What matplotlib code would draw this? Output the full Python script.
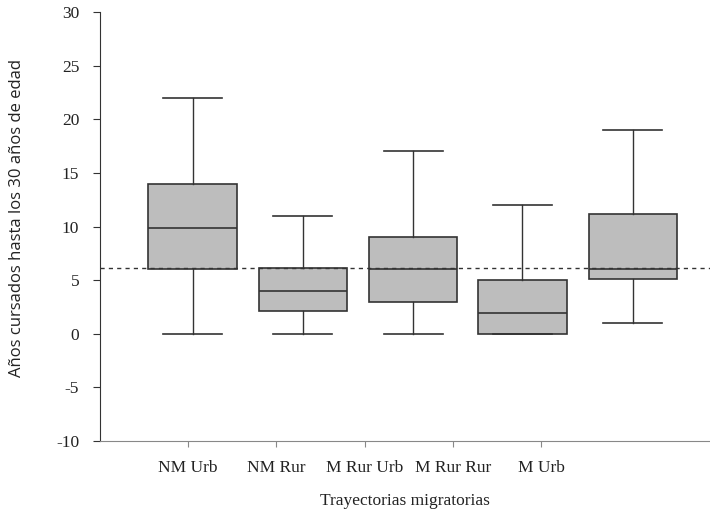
import numpy as np
import matplotlib
matplotlib.use("Agg")
import matplotlib.pyplot as plt

plt.rcParams["axes.unicode_minus"] = False

# Datos (cuartiles y bigotes)
categorias = ["NM Urb", "NM Rur", "M Rur Urb", "M Rur Rur", "M Urb"]
bigote_inf = [0, 0, 0, 0, 1]
q1 = [6, 2.1, 3, 0, 5.1]
mediana = [9.9, 4, 6, 1.9, 6]
q3 = [14, 6.1, 9, 5, 11.2]
bigote_sup = [22, 11, 17, 12, 19]
media_general = 6.1

# posiciones de las etiquetas y de las cajas (desalineadas en el original)
pos_etiquetas = [1, 2, 3, 4, 5]
pos_cajas = [1.05, 2.30, 3.55, 4.79, 6.04]

stats = []
for i in range(len(categorias)):
    stats.append({"whislo": bigote_inf[i], "q1": q1[i], "med": mediana[i],
                  "q3": q3[i], "whishi": bigote_sup[i], "fliers": []})

fig = plt.figure(figsize=(7.1, 5.11), dpi=100)
ax = fig.add_axes([0.1408, 0.137, 0.8585, 0.8395])

linea = "#333333"
ax.bxp(stats, positions=pos_cajas, widths=1.0, capwidths=0.67,
       patch_artist=True, showfliers=False,
       boxprops=dict(facecolor="#bdbdbd", edgecolor=linea, linewidth=1.2),
       medianprops=dict(color=linea, linewidth=1.2),
       whiskerprops=dict(color=linea, linewidth=1.0),
       capprops=dict(color=linea, linewidth=1.2))

ax.axhline(media_general, color=linea, linestyle=(0, (3, 3)), linewidth=1.0, zorder=3)

ax.set_xlim(0, 6.91)
ax.set_ylim(-10, 30)
ax.set_yticks(np.arange(-10, 31, 5))
ax.set_xticks(pos_etiquetas)
ax.set_xticklabels(categorias)

serif = "Liberation Serif"
for lab in ax.get_yticklabels() + ax.get_xticklabels():
    lab.set_fontfamily(serif)
    lab.set_fontsize(12.5)
    lab.set_color("#222222")

ax.tick_params(axis="y", direction="out", length=5, pad=10, color=linea)
ax.tick_params(axis="x", direction="out", length=4, pad=10, color="#888888")

ax.spines["top"].set_visible(False)
ax.spines["right"].set_visible(False)
ax.spines["left"].set_color(linea)
ax.spines["bottom"].set_color("#888888")

ax.set_xlabel("Trayectorias migratorias", fontfamily=serif, fontsize=12.5,
              color="#222222", labelpad=12)
ax.set_ylabel("Años cursados hasta los 30 años de edad", fontfamily="Open Sans",
              fontsize=12, color="#222222")
ax.yaxis.set_label_coords(-0.123, 0.52)

fig.savefig("out.png", dpi=100)
